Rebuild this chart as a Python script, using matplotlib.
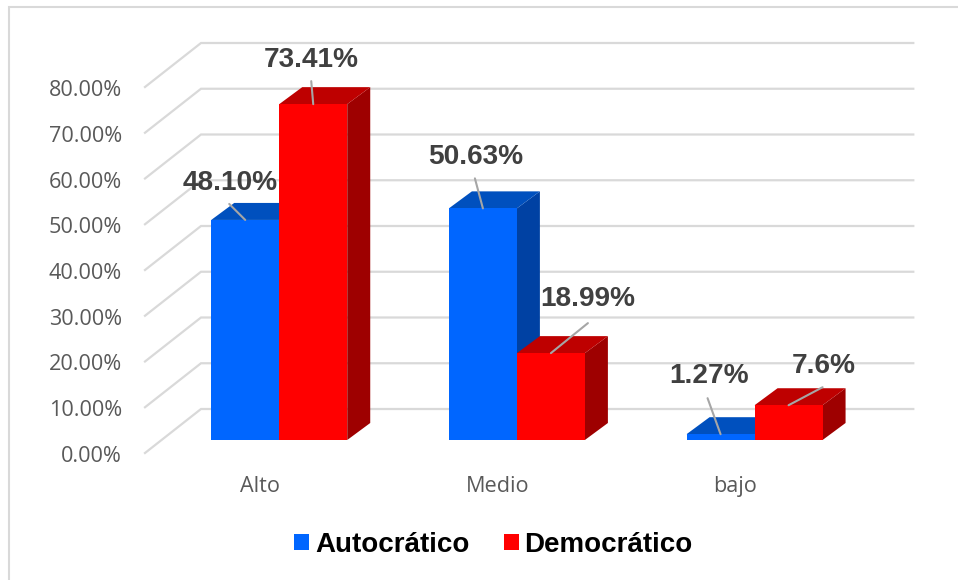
import matplotlib
matplotlib.use("Agg")
import matplotlib.pyplot as plt
from matplotlib.patches import Polygon, Patch, Rectangle
from matplotlib.lines import Line2D
from matplotlib.transforms import ScaledTranslation

# ---- data ----
categories = ["Alto", "Medio", "bajo"]
series_names = ["Autocrático", "Democrático"]
autocratico = [48.10, 50.63, 1.27]
democratico = [73.41, 18.99, 7.6]
auto_labels = ["48.10%", "50.63%", "1.27%"]
demo_labels = ["73.41%", "18.99%", "7.6%"]
y_ticks = [0, 10, 20, 30, 40, 50, 60, 70, 80]
y_tick_labels = ["0.00%", "10.00%", "20.00%", "30.00%", "40.00%", "50.00%", "60.00%", "70.00%", "80.00%"]

# ---- style / layout (pixels on a 958x580 canvas) ----
W, H = 958, 580
AX_L, AX_R, AX_B, AX_T = 145, 858, 453, 87
PX_X = (AX_R - AX_L) / 3.0
PX_Y = (AX_B - AX_T) / 80.0
WALL_DX, WALL_DY = 56 / PX_X, 44 / PX_Y        # floor depth in data units
BAR_OFF_X, BAR_OFF_Y = 15.4 / PX_X, 13 / PX_Y  # bar front plane
BAR_DX, BAR_DY = 23 / PX_X, 17 / PX_Y          # bar depth
BAR_W = 68 / PX_X

BLUE = ("#0066FF", "#0050BE", "#0041A3")
RED = ("#FF0000", "#BE0000", "#9E0000")
GRID = "#D9D9D9"

fig = plt.figure(figsize=(W / 100, H / 100), dpi=100, facecolor="white")
ax = fig.add_axes([AX_L / W, 1 - AX_B / H, (AX_R - AX_L) / W, (AX_B - AX_T) / H])
ax.set_xlim(0, 3)
ax.set_ylim(0, 80)
ax.patch.set_visible(False)
for s in ax.spines.values():
    s.set_visible(False)

# chart frame: only the top and left edges are visible
fig.add_artist(Line2D([9 / W, 9 / W, 1], [0, 1 - 7 / H, 1 - 7 / H], transform=fig.transFigure,
                      color="#D9D9D9", linewidth=1.5, solid_joinstyle="miter"))

# walls
for v in y_ticks:
    ax.plot([0, WALL_DX, 3 + WALL_DX - 0.003], [v, v + WALL_DY, v + WALL_DY],
            color=GRID, lw=1.6, clip_on=False, zorder=1, solid_joinstyle="miter")


def draw_bar(left, value, colors, z):
    x0 = left + BAR_OFF_X
    x1 = x0 + BAR_W
    y0 = BAR_OFF_Y
    y1 = y0 + value
    dx, dy = BAR_DX, BAR_DY
    ax.add_patch(Polygon([(x1, y0), (x1 + dx, y0 + dy), (x1 + dx, y1 + dy), (x1, y1)],
                         fc=colors[2], ec="none", clip_on=False, zorder=z))
    ax.add_patch(Polygon([(x0, y1), (x1, y1), (x1 + dx, y1 + dy), (x0 + dx, y1 + dy)],
                         fc=colors[1], ec="none", clip_on=False, zorder=z))
    ax.add_patch(Rectangle((x0, y0), BAR_W, value, fc=colors[0], ec="none", clip_on=False, zorder=z + 0.1))
    return (x0 + x1) / 2, y1


# offsets of leader end and label centre from the bar's front-top midpoint (pixels)
auto_leader = [(-16, 16), (-8, 30), (-13, 36)]
auto_text = [(-15, 37), (-7, 51), (-12, 58)]
demo_leader = [(-2, 23), (37, 30), (34, 18)]
demo_text = [(-2, 44), (37, 54), (35, 39)]

for i in range(len(categories)):
    left = i + 0.5 - BAR_W
    for left_i, val, cols, lab, lead, tx in (
        (left, autocratico[i], BLUE, auto_labels[i], auto_leader[i], auto_text[i]),
        (left + BAR_W, democratico[i], RED, demo_labels[i], demo_leader[i], demo_text[i]),
    ):
        xa, ya = draw_bar(left_i, val, cols, 2 + i * 0.01 + (left_i - left))
        ax.annotate("", xy=(xa, ya), xytext=lead, textcoords="offset pixels",
                    arrowprops=dict(arrowstyle="-", color="#A6A6A6", lw=1.5, shrinkA=0, shrinkB=0),
                    annotation_clip=False, zorder=5)
        ax.annotate(lab, xy=(xa, ya), xytext=tx, textcoords="offset pixels",
                    ha="center", va="center", fontsize=20.2, fontweight="bold",
                    family="Liberation Sans", color="#404040", annotation_clip=False, zorder=6)

# axes text
ax.set_yticks(y_ticks)
ax.set_yticklabels(y_tick_labels, fontsize=15.6, family="Open Sans", color="#595959")
ax.set_xticks([0.5, 1.5, 2.5])
ax.set_xticklabels(categories, fontsize=15.6, family="Open Sans", color="#595959")
ax.tick_params(axis="y", length=0, pad=23 / 100 * 72)
ax.tick_params(axis="x", length=0, pad=23 / 100 * 72)
shift_x = ScaledTranslation(-4 / 100, 0, fig.dpi_scale_trans)
for t in ax.get_xticklabels():
    t.set_transform(t.get_transform() + shift_x)
shift_y = ScaledTranslation(0, -1 / 100, fig.dpi_scale_trans)
for t in ax.get_yticklabels():
    t.set_transform(t.get_transform() + shift_y)

# legend
handles = [Patch(fc=BLUE[0], ec="none"), Patch(fc=RED[0], ec="none")]
leg = fig.legend(handles, series_names, loc="center", bbox_to_anchor=(493.5 / W, 1 - 545 / H),
                 ncol=2, frameon=False, handlelength=0.54, handleheight=0.54,
                 handletextpad=0.2, columnspacing=1.25, borderpad=0,
                 prop={"family": "Liberation Sans", "weight": "bold", "size": 20})

fig.savefig("out.png", dpi=100, facecolor="white")
